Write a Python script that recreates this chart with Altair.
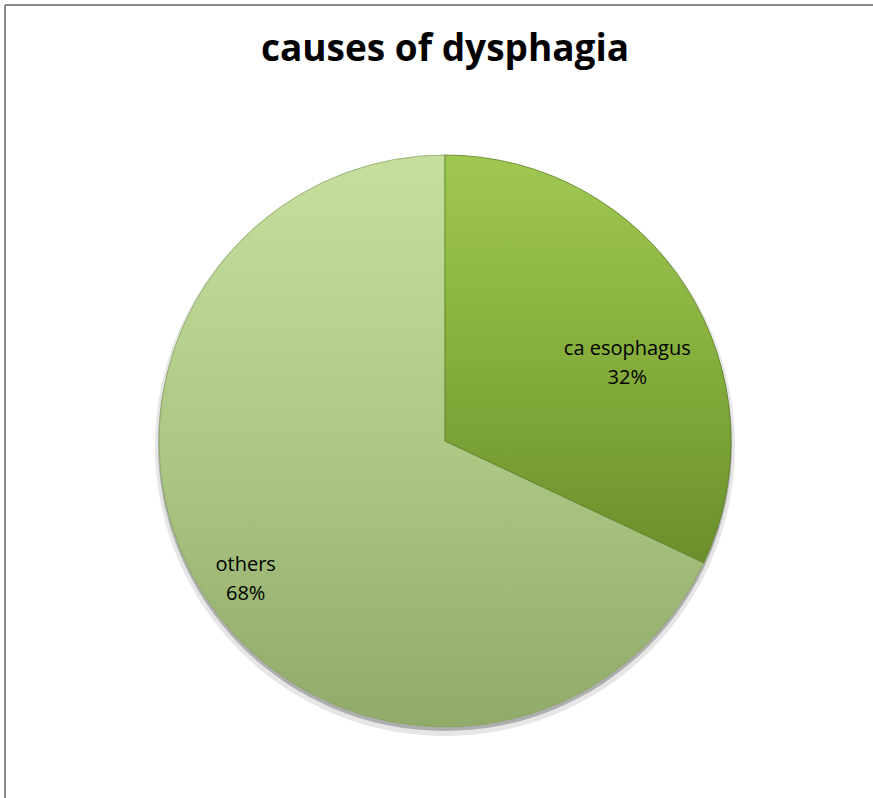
import altair as alt
import pandas as pd

# Causes of dysphagia (percent of cases)
causes = ["ca esophagus", "others"]
shares = [32, 68]

df = pd.DataFrame({"cause": causes, "share": shares, "order": [0, 1]})

W, H = 873, 798
CX, CY, R = 445, 441, 286

theta_scale = alt.Scale(domain=[0, 100], range=[0, 6.283185307179586])

base = alt.Chart(df).transform_window(
    end="sum(share)", sort=[alt.SortField("order")], frame=[None, 0]
).transform_calculate(
    start="datum.end - datum.share",
    label="datum.cause + '\\n' + datum.share + '%'",
)

grad_dark = alt.Gradient(
    gradient="linear", x1=0, y1=0, x2=0, y2=1,
    stops=[alt.GradientStop(color="#a0c851", offset=0),
           alt.GradientStop(color="#85ae3c", offset=0.5),
           alt.GradientStop(color="#6b8f2c", offset=1)],
)
grad_light = alt.Gradient(
    gradient="linear", x1=0, y1=0, x2=0, y2=1,
    stops=[alt.GradientStop(color="#c6df9e", offset=0),
           alt.GradientStop(color="#abc683", offset=0.55),
           alt.GradientStop(color="#90aa69", offset=1)],
)

enc = dict(
    theta=alt.Theta("start:Q", scale=theta_scale),
    theta2="end:Q",
    x=alt.value(CX),
    y=alt.value(CY),
)

# soft drop shadow under the pie
shadow_outer = alt.Chart(alt.Data(values=[{"a": 0, "b": 100}])).mark_arc(
    radius=R + 4, color="#9a9a9a", opacity=0.25
).encode(
    theta=alt.Theta("a:Q", scale=theta_scale), theta2="b:Q",
    x=alt.value(CX), y=alt.value(CY + 5),
)
shadow = alt.Chart(alt.Data(values=[{"a": 0, "b": 100}])).mark_arc(
    radius=R + 1, color="#6a6a6a", opacity=0.45
).encode(
    theta=alt.Theta("a:Q", scale=theta_scale), theta2="b:Q",
    x=alt.value(CX), y=alt.value(CY + 3),
)

slice_ca = base.transform_filter(alt.datum.cause == "ca esophagus").mark_arc(
    radius=R, fill=grad_dark, stroke="#5d7d26", strokeWidth=0.8
).encode(**enc)

slice_oth = base.transform_filter(alt.datum.cause == "others").mark_arc(
    radius=R, fill=grad_light, stroke="#8aa562", strokeWidth=0.8
).encode(**enc)

label_style = dict(font="Open Sans", fontSize=20, color="#000000",
                   lineBreak="\n", lineHeight=29, align="center", baseline="middle")

text_enc = dict(
    theta=alt.Theta("mid:Q", scale=theta_scale),
    x=alt.value(CX), y=alt.value(CY), text="label:N",
)

lab_ca = base.transform_filter(alt.datum.cause == "ca esophagus").transform_calculate(
    mid="(datum.start + datum.end) / 2"
).mark_text(radius=178, dx=32, dy=3, **label_style).encode(**text_enc)

lab_oth = base.transform_filter(alt.datum.cause == "others").transform_calculate(
    mid="(datum.start + datum.end) / 2"
).mark_text(radius=242, dx=5, dy=-6, **label_style).encode(**text_enc)

title = alt.Chart(alt.Data(values=[{"t": "causes of dysphagia"}])).mark_text(
    font="Open Sans", fontSize=37, fontWeight="bold", color="#000000",
    align="center", baseline="middle",
).encode(x=alt.value(CX), y=alt.value(50), text="t:N")

# chart frame: top and left edges (the others run off the page)
frame_top = alt.Chart(alt.Data(values=[{}])).mark_rule(
    color="#8a8a8a", strokeWidth=2
).encode(x=alt.value(5), x2=alt.value(W), y=alt.value(5))
frame_left = alt.Chart(alt.Data(values=[{}])).mark_rule(
    color="#8a8a8a", strokeWidth=2
).encode(x=alt.value(5), y=alt.value(5), y2=alt.value(H))

chart = alt.layer(
    frame_top, frame_left, title, shadow_outer, shadow, slice_oth, slice_ca, lab_ca, lab_oth
).properties(
    width=W, height=H, padding=0, autosize=alt.AutoSizeParams(type="none"),
    background="white",
).configure_view(stroke=None)

chart.save("out.html", embed_options={"renderer": "svg", "actions": False})
